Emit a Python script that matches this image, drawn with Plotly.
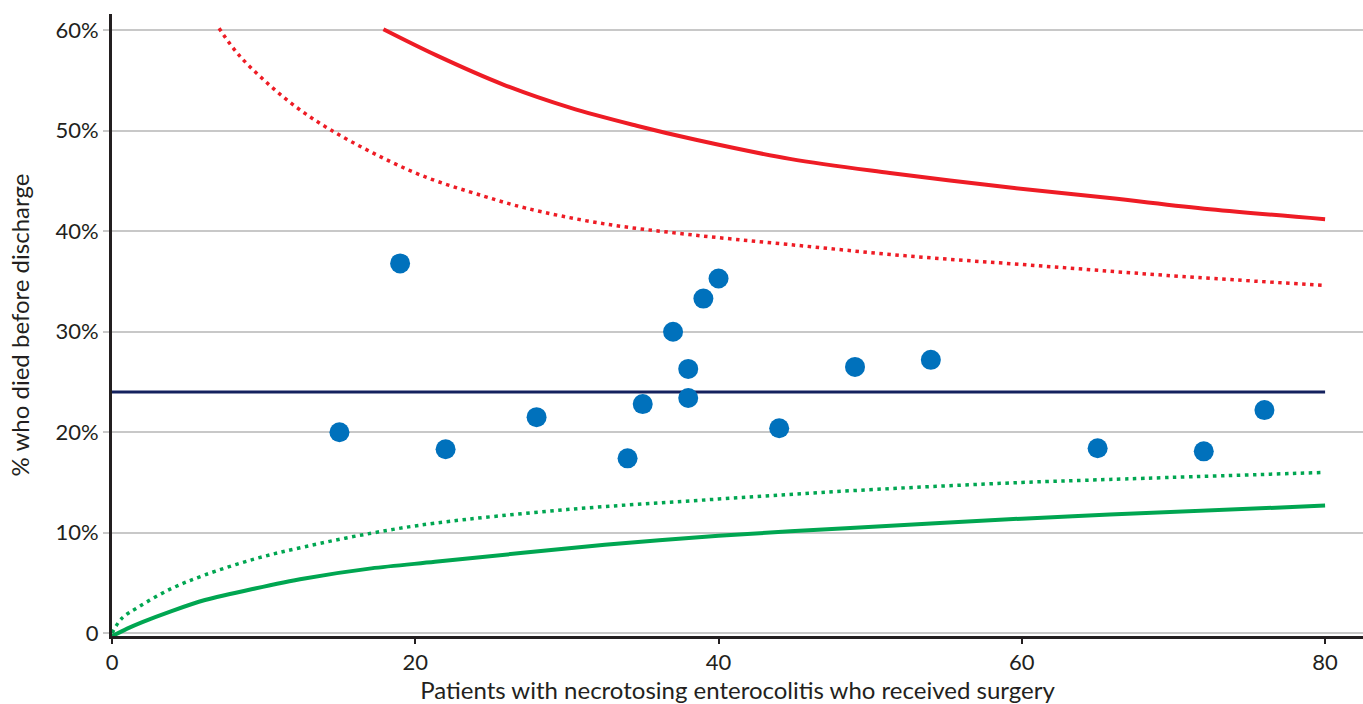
import plotly.graph_objects as go

# Units: number of surgical NEC patients and % who died before discharge
patients = [15, 19, 22, 28, 34, 35, 37, 38, 38, 39, 40, 44, 49, 54, 65, 72, 76]
died_pct = [20.0, 36.8, 18.3, 21.5, 17.4, 22.8, 30.0, 26.3, 23.4, 33.3, 35.3, 20.4, 26.5, 27.2, 18.4, 18.1, 22.2]

# Overall average
mean_pct = 24.0
mean_x = [0, 80]

# Control limits read along the funnel
upper_outer_x = [17.9, 21.4, 25.8, 30.2, 34.6, 38.5, 44.7, 51.3, 59.5, 65.8, 72.4, 80]
upper_outer_y = [60.1, 57.5, 54.6, 52.3, 50.5, 49.1, 47.2, 45.8, 44.3, 43.3, 42.2, 41.2]

upper_inner_x = [7.06, 8.33, 10.2, 12.2, 14.4, 17.2, 20.5, 24.5, 27.3, 32.2, 37.9, 44.5, 52.4, 60.8, 69.6, 80]
upper_inner_y = [60.2, 57.6, 54.8, 52.3, 50.1, 47.8, 45.5, 43.5, 42.3, 40.8, 39.7, 38.7, 37.55, 36.6, 35.6, 34.6]

lower_outer_x = [0, 1.0, 2.0, 3.93, 6.13, 9.43, 12.7, 17.1, 21.3, 32.5, 40, 49, 60, 65.8, 80]
lower_outer_y = [-0.3, 0.45, 1.1, 2.2, 3.3, 4.45, 5.45, 6.45, 7.1, 8.8, 9.7, 10.5, 11.4, 11.8, 12.7]

lower_inner_x = [0, 0.64, 1.74, 3.93, 6.13, 9.43, 12.7, 17.1, 21.3, 30, 40, 49, 60, 65.8, 80]
lower_inner_y = [0, 1.47, 2.6, 4.45, 5.8, 7.4, 8.6, 9.95, 10.95, 12.3, 13.35, 14.2, 15.0, 15.3, 16.0]

y_ticks = [0, 10, 20, 30, 40, 50, 60]
y_tick_text = ["0", "10%", "20%", "30%", "40%", "50%", "60%"]
x_ticks = [0, 20, 40, 60, 80]

RED = "#ee1c25"
GREEN = "#00a651"
NAVY = "#14215e"
BLUE = "#0071bc"

fig = go.Figure()

fig.add_trace(go.Scatter(x=upper_outer_x, y=upper_outer_y, mode="lines",
                         line=dict(color=RED, width=4, shape="spline"), hoverinfo="skip"))
fig.add_trace(go.Scatter(x=upper_inner_x, y=upper_inner_y, mode="lines",
                         line=dict(color=RED, width=3.5, dash="3.5px,4.5px", shape="spline"), hoverinfo="skip"))
fig.add_trace(go.Scatter(x=lower_outer_x, y=lower_outer_y, mode="lines",
                         line=dict(color=GREEN, width=4, shape="spline", smoothing=0.8), hoverinfo="skip"))
fig.add_trace(go.Scatter(x=lower_inner_x, y=lower_inner_y, mode="lines",
                         line=dict(color=GREEN, width=3.5, dash="3.5px,4.5px", shape="spline"), hoverinfo="skip"))
fig.add_trace(go.Scatter(x=mean_x, y=[mean_pct, mean_pct], mode="lines",
                         line=dict(color=NAVY, width=3), hoverinfo="skip"))
fig.add_trace(go.Scatter(x=patients, y=died_pct, mode="markers",
                         marker=dict(color=BLUE, size=20, line=dict(width=0))))

fig.update_layout(
    width=1363, height=704,
    margin=dict(l=112, r=0, t=14, b=68),
    paper_bgcolor="white", plot_bgcolor="white",
    showlegend=False,
    font=dict(family="Lato, 'Open Sans', sans-serif", size=20, color="#231f20"),
)

fig.update_xaxes(
    range=[0, 82.5], tickvals=x_ticks, ticks="outside", ticklen=5, tickwidth=2,
    tickcolor="#231f20", showgrid=False, zeroline=False,
    showline=True, linecolor="#231f20", linewidth=3,
    title=dict(text="Patients with necrotosing enterocolitis who received surgery", standoff=9),
    tickfont=dict(size=22),
)
fig.update_yaxes(
    range=[-0.28, 61.62], tickvals=y_ticks, ticktext=y_tick_text,
    ticks="outside", ticklen=6, tickwidth=1.5, tickcolor="#c8c8c8",
    showgrid=True, gridcolor="#c8c8c8", gridwidth=1.5, zeroline=False,
    showline=True, linecolor="#231f20", linewidth=3,
    title=dict(text="% who died before discharge", standoff=20),
    tickfont=dict(size=22),
)

fig.write_html("out.html")
